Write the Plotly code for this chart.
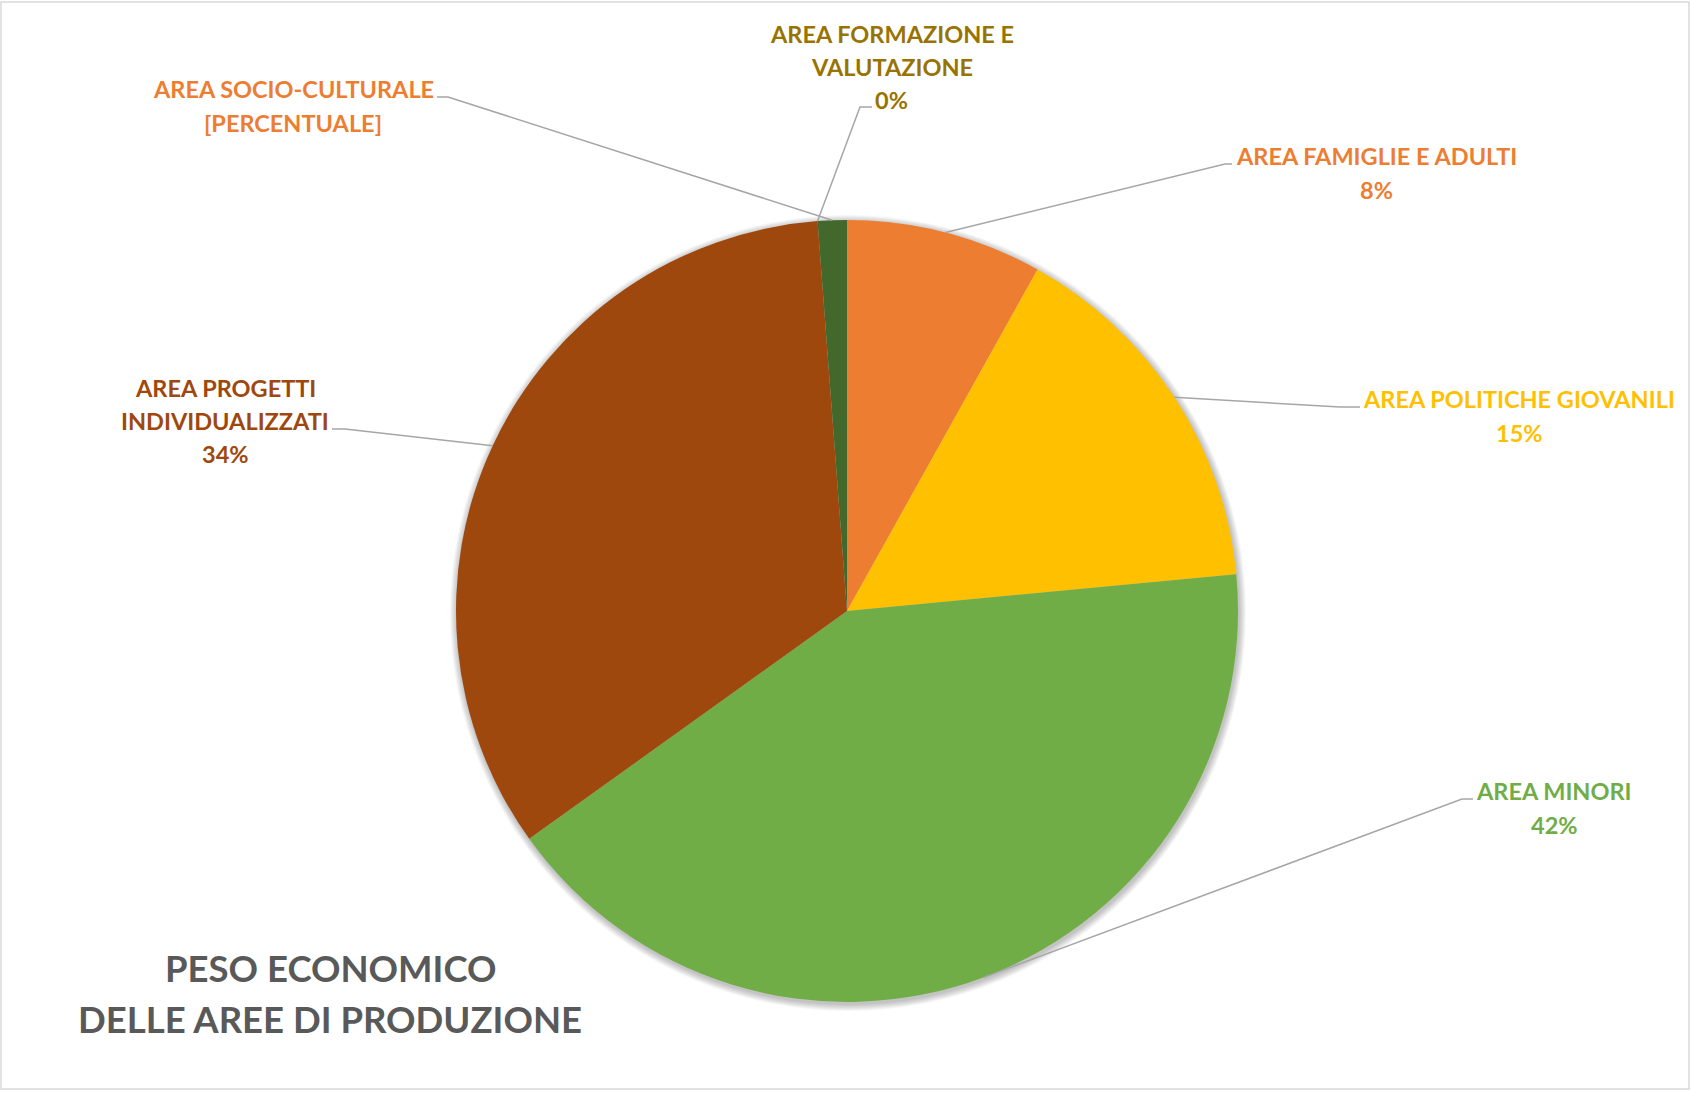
import math
import plotly.graph_objects as go

# ---- data ----
categories = ["AREA FAMIGLIE E ADULTI", "AREA POLITICHE GIOVANILI", "AREA MINORI",
              "AREA PROGETTI INDIVIDUALIZZATI", "AREA FORMAZIONE E VALUTAZIONE",
              "AREA SOCIO-CULTURALE"]
values = [8.1, 15.4, 41.6, 33.7, 0.0, 1.2]
label_texts = ["AREA FAMIGLIE E ADULTI<br>8%",
               "AREA POLITICHE GIOVANILI<br>15%",
               "AREA MINORI<br>42%",
               "AREA PROGETTI<br>INDIVIDUALIZZATI<br>34%",
               "AREA FORMAZIONE E<br>VALUTAZIONE<br>0%",
               "AREA SOCIO-CULTURALE<br>[PERCENTUALE]"]
slice_colors = ["#ED7D31", "#FFC000", "#70AD47", "#9E480E", "#997300", "#43682B"]
label_colors = ["#ED7D31", "#FFC000", "#70AD47", "#9E480E", "#997300", "#ED7D31"]
title_lines = ["PESO ECONOMICO", "DELLE AREE DI PRODUZIONE"]

# ---- layout constants (pixels) ----
W, H = 1691, 1093
CX, CY, R = 847, 611, 391
FONT = "Lato"
LABEL_SIZE = 23.5
LABEL_SPACING = 33.4
TITLE_SIZE = 36.5
TITLE_SPACING = 51

def px(x):
    return x / W

def py(y):
    return 1 - y / H

# label centres and leader-line elbows (x, y) in pixels
label_pos = [(1376, 173), (1519, 416), (1554, 808), (225, 421), (892, 67), (293, 106)]
elbows = [((1225, 164), (1232, 164)), ((1340, 407), (1360, 407)),
          ((1462, 799), (1473, 799)), ((345, 429), (332, 429)),
          ((860, 107), (872, 107)), ((448, 97), (437, 97))]

fig = go.Figure(go.Pie(
    labels=categories, values=values, sort=False, direction="clockwise", rotation=0,
    marker=dict(colors=slice_colors, line=dict(width=0)),
    textinfo="none", hoverinfo="label+percent", showlegend=False,
    domain=dict(x=[px(CX - R), px(CX + R)], y=[py(CY + R), py(CY - R)]),
))

shapes = []
# soft shadow behind the pie
for k in range(1, 8):
    rr = R + k
    shapes.append(dict(type="circle", xref="paper", yref="paper", layer="below",
                       x0=px(CX - rr + 1), x1=px(CX + rr + 1),
                       y0=py(CY + rr + 2), y1=py(CY - rr + 2),
                       fillcolor="rgba(0,0,0,0.035)", line=dict(width=0)))

# leader lines from the middle of each slice's arc
total = sum(values)
cum = 0.0
for i, v in enumerate(values):
    mid = (cum + v / 2) / total * 2 * math.pi
    cum += v
    ax = CX + R * math.sin(mid)
    ay = CY - R * math.cos(mid)
    (ex, ey), (hx, hy) = elbows[i]
    path = f"M {px(ax)} {py(ay)} L {px(ex)} {py(ey)} L {px(hx)} {py(hy)}"
    shapes.append(dict(type="path", xref="paper", yref="paper", path=path,
                       line=dict(color="#A6A6A6", width=1.5)))

# outer border
shapes.append(dict(type="rect", xref="paper", yref="paper",
                   x0=px(1), x1=px(1689), y0=py(1089), y1=py(2),
                   line=dict(color="#D9D9D9", width=1.5)))

annotations = []

def add_lines(lines, cx, cy, spacing, size, color):
    n = len(lines)
    for j, line in enumerate(lines):
        yy = cy + (j - (n - 1) / 2) * spacing
        annotations.append(dict(text=f"<b>{line}</b>", x=px(cx), y=py(yy),
                                xref="paper", yref="paper", xanchor="center",
                                yanchor="middle", showarrow=False,
                                font=dict(family=FONT, size=size, color=color)))

for i, t in enumerate(label_texts):
    lx, ly = label_pos[i]
    add_lines(t.split("<br>"), lx, ly, LABEL_SPACING, LABEL_SIZE, label_colors[i])

add_lines(title_lines, 330, 993, TITLE_SPACING, TITLE_SIZE, "#595959")

fig.update_layout(width=W, height=H, margin=dict(l=0, r=0, t=0, b=0),
                  paper_bgcolor="white", plot_bgcolor="white",
                  shapes=shapes, annotations=annotations)

fig.write_html("out.html")
